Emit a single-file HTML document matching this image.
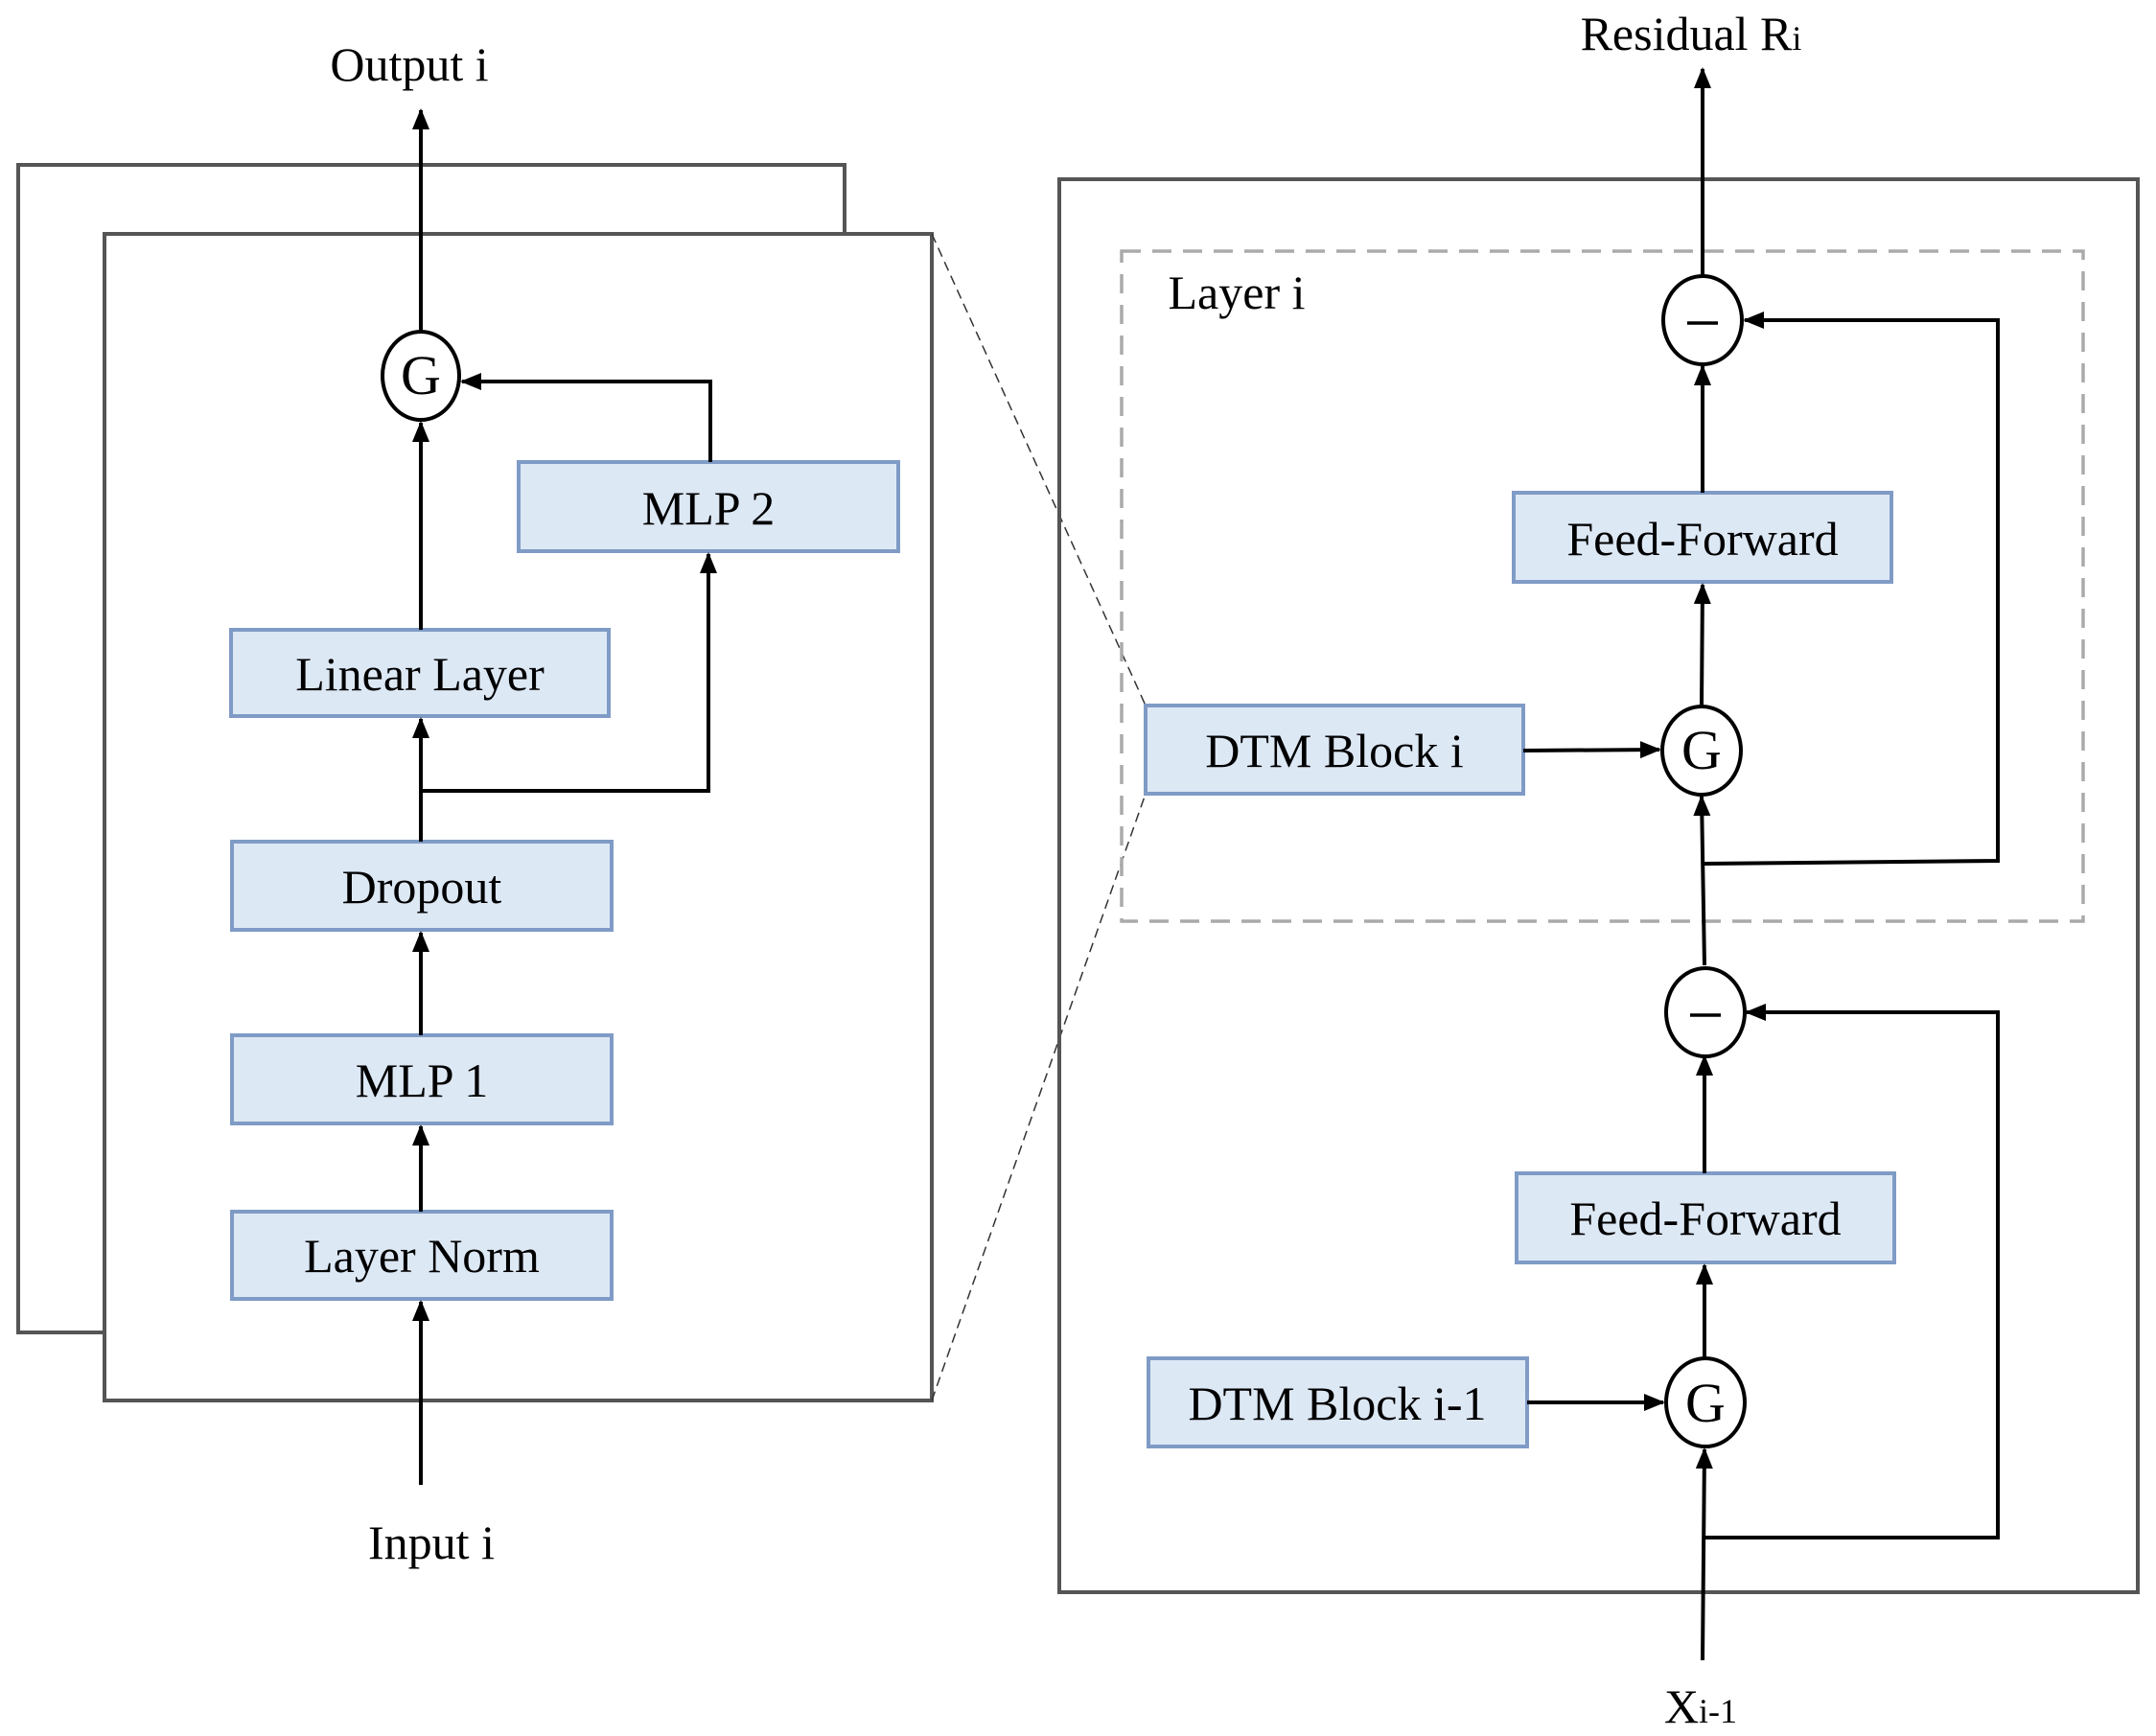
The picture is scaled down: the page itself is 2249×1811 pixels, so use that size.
<!DOCTYPE html>
<html><head><meta charset="utf-8"><style>
html,body{margin:0;padding:0;background:#fff;}
svg{display:block;}
text{font-family:"Liberation Serif",serif;fill:#000;}
</style></head><body>
<svg width="2249" height="1811" viewBox="0 0 2249 1811" xmlns="http://www.w3.org/2000/svg">
<defs>
<marker id="a" markerWidth="22" markerHeight="18" refX="20" refY="9" orient="auto" markerUnits="userSpaceOnUse" viewBox="0 0 22 18">
<path d="M0,0 L22,9 L0,18 z" fill="#000"/></marker>
</defs>
<g fill="none" stroke="#000" stroke-width="4">
<rect x="19" y="172" width="862" height="1218" fill="#fff" stroke="#555"/>
<rect x="109" y="244" width="863" height="1217" fill="#fff" stroke="#555"/>
</g>
<line x1="972" y1="244" x2="1195" y2="736" stroke="#333" stroke-width="1.5" stroke-dasharray="10,6"/>
<line x1="972" y1="1461" x2="1195" y2="828" stroke="#333" stroke-width="1.5" stroke-dasharray="10,6"/>
<rect x="1105" y="187" width="1125" height="1474" fill="none" stroke="#555" stroke-width="4"/>
<rect x="1170" y="262" width="1003" height="699" fill="none" stroke="#aaa" stroke-width="3.5" stroke-dasharray="20,12"/>

<g fill="#dde8f5" stroke="#7f9bc6" stroke-width="4">
<rect x="541" y="482" width="396" height="93"/>
<rect x="241" y="657" width="394" height="90"/>
<rect x="242" y="878" width="396" height="92"/>
<rect x="242" y="1080" width="396" height="92"/>
<rect x="242" y="1264" width="396" height="91"/>
<rect x="1579" y="514" width="394" height="93"/>
<rect x="1195" y="736" width="394" height="92"/>
<rect x="1582" y="1224" width="394" height="93"/>
<rect x="1198" y="1417" width="395" height="92"/>
</g>

<g stroke="#000" stroke-width="4" fill="none">
<line x1="439" y1="1549" x2="439" y2="1358" marker-end="url(#a)"/>
<line x1="439" y1="1264" x2="439" y2="1175" marker-end="url(#a)"/>
<line x1="439" y1="1080" x2="439" y2="973" marker-end="url(#a)"/>
<line x1="439" y1="878" x2="439" y2="750" marker-end="url(#a)"/>
<polyline points="439,825 739,825 739,578" marker-end="url(#a)"/>
<line x1="439" y1="657" x2="439" y2="441" marker-end="url(#a)"/>
<polyline points="741,482 741,398 482,398" marker-end="url(#a)"/>
<line x1="439" y1="346" x2="439" y2="115" marker-end="url(#a)"/>
<line x1="1776" y1="1732" x2="1778" y2="1512" marker-end="url(#a)"/>
<polyline points="1778,1604 2084,1604 2084,1056 1822,1056" marker-end="url(#a)"/>
<line x1="1593" y1="1463" x2="1735" y2="1463" marker-end="url(#a)"/>
<line x1="1778" y1="1417" x2="1778" y2="1320" marker-end="url(#a)"/>
<line x1="1778" y1="1224" x2="1778" y2="1102" marker-end="url(#a)"/>
<line x1="1778" y1="1007" x2="1775" y2="831" marker-end="url(#a)"/>
<polyline points="1776,901 2084,898 2084,334 1820,334" marker-end="url(#a)"/>
<line x1="1589" y1="783" x2="1731" y2="782" marker-end="url(#a)"/>
<line x1="1775" y1="736" x2="1776" y2="610" marker-end="url(#a)"/>
<line x1="1776" y1="514" x2="1776" y2="382" marker-end="url(#a)"/>
<line x1="1776" y1="287" x2="1776" y2="72" marker-end="url(#a)"/>
</g>
<g fill="#fff" stroke="#000" stroke-width="4">
<ellipse cx="439" cy="392" rx="40" ry="46"/>
<ellipse cx="1775" cy="783" rx="41" ry="46"/>
<ellipse cx="1776" cy="334" rx="41" ry="46"/>
<ellipse cx="1779" cy="1056" rx="41" ry="46"/>
<ellipse cx="1779" cy="1463" rx="41" ry="46"/>
</g>
<g stroke="#000" stroke-width="3.5">
<line x1="1760" y1="337" x2="1792" y2="337"/>
<line x1="1763" y1="1059" x2="1795" y2="1059"/>
</g>

<g font-size="50" text-anchor="middle">
<text x="439" y="411" font-size="58">G</text>
<text x="1775" y="802" font-size="58">G</text>
<text x="1779" y="1483" font-size="58">G</text>
<text x="739" y="547">MLP 2</text>
<text x="438" y="720">Linear Layer</text>
<text x="440" y="942">Dropout</text>
<text x="440" y="1144">MLP 1</text>
<text x="440" y="1327">Layer Norm</text>
<text x="1776" y="579">Feed-Forward</text>
<text x="1392" y="800">DTM Block i</text>
<text x="1779" y="1288">Feed-Forward</text>
<text x="1395" y="1481">DTM Block i-1</text>
<text x="427" y="84">Output i</text>
<text x="450" y="1626">Input i</text>
<text x="1764" y="52">Residual R<tspan font-size="36">i</tspan></text>
<text x="1774" y="1797">X<tspan font-size="36">i-1</tspan></text>
<text x="1290" y="322">Layer i</text>
</g>
</svg>
</body></html>
